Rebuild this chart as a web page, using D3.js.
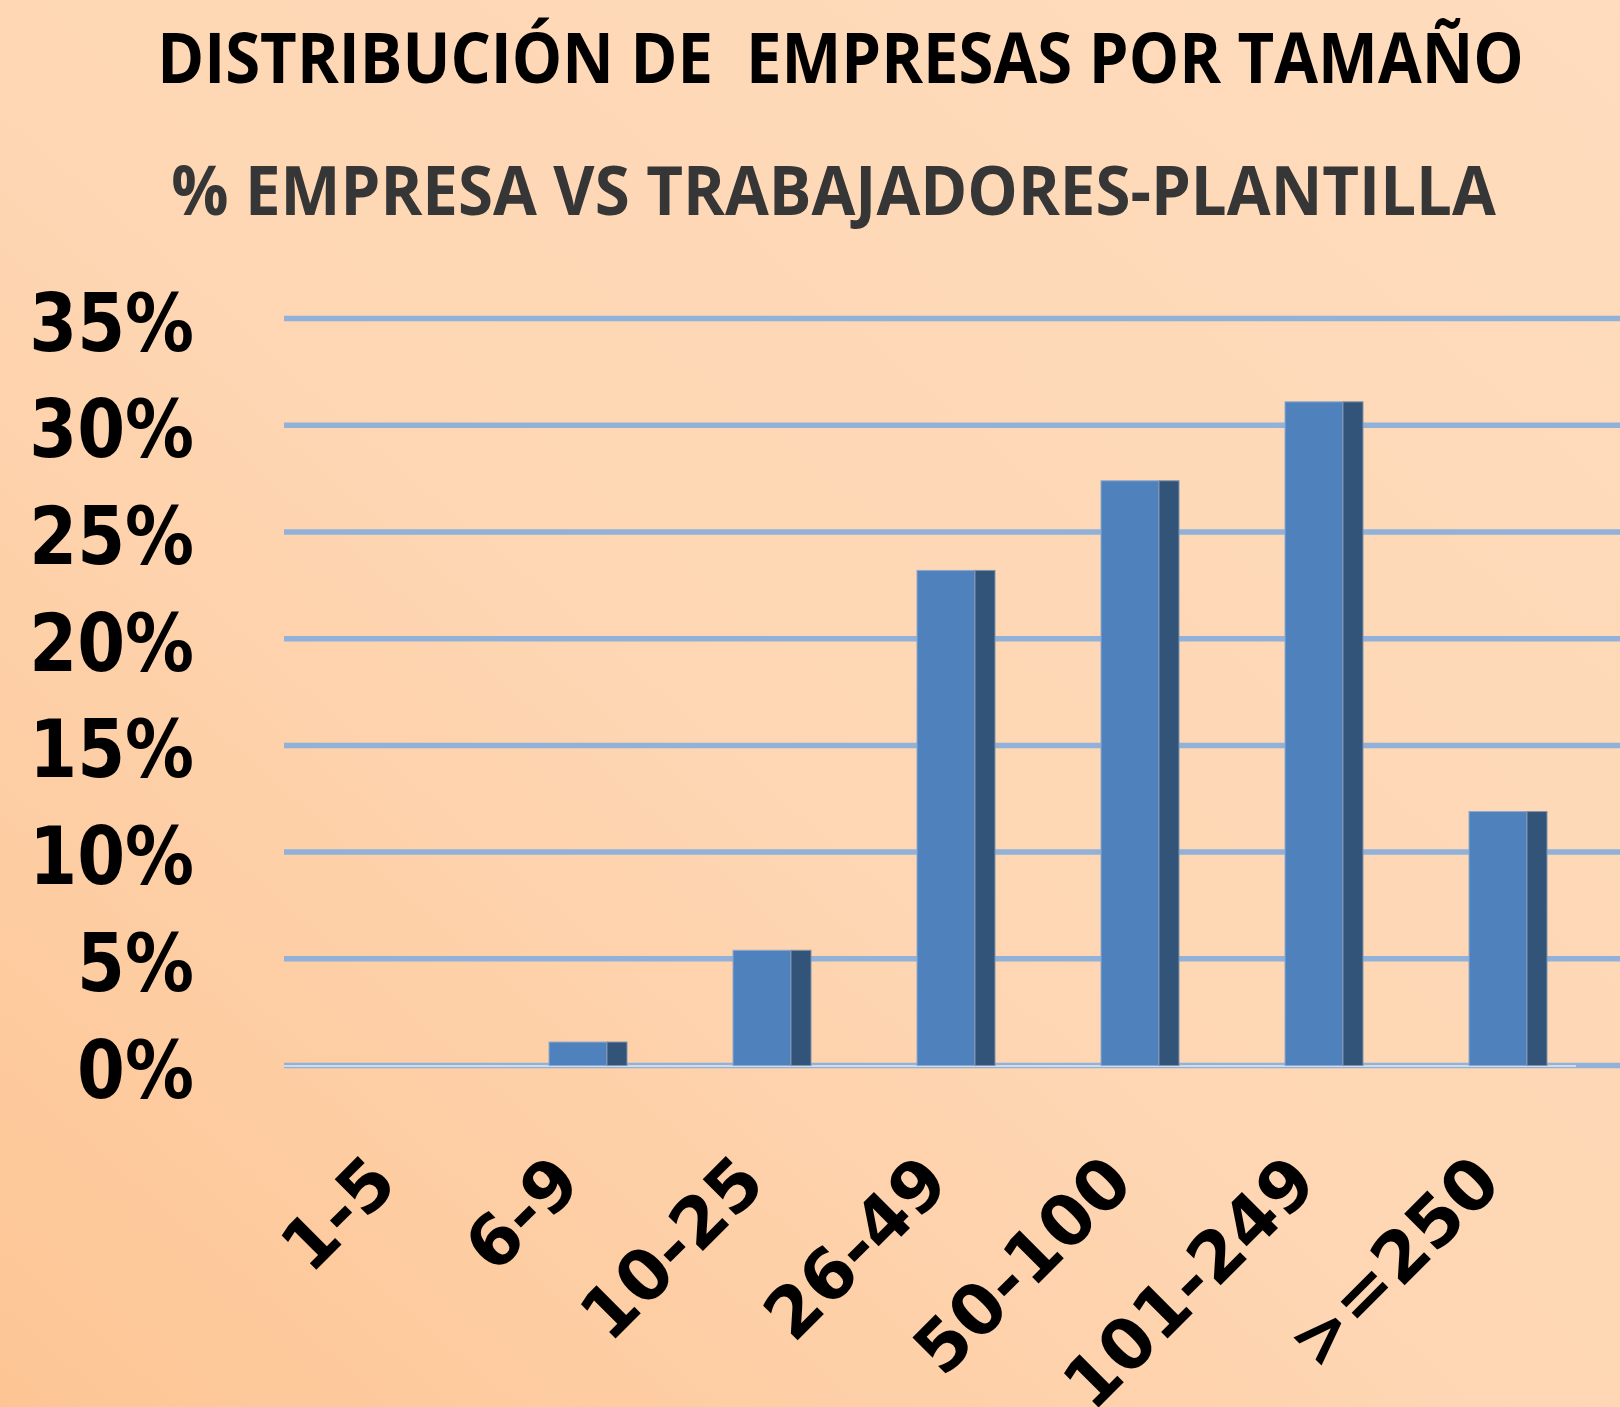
<!DOCTYPE html>
<html>
<head>
<meta charset="utf-8">
<script src="https://cdn.jsdelivr.net/npm/d3@7"></script>
<style>
  html, body { margin: 0; padding: 0; background: #fed9b8; }
  svg { display: block; }
</style>
</head>
<body>
<svg id="chart" width="1620" height="1407"></svg>
<script>
// ---- data ----
const categories = ["1-5", "6-9", "10-25", "26-49", "50-100", "101-249", ">=250"];
const values = [0, 1.1, 5.4, 23.2, 27.4, 31.1, 11.9];
const yTicks = [0, 5, 10, 15, 20, 25, 30, 35];
const yTickLabels = ["0%", "5%", "10%", "15%", "20%", "25%", "30%", "35%"];
const title1 = "DISTRIBUCIÓN DE\u00A0 EMPRESAS POR TAMAÑO";
const title2 = "% EMPRESA VS TRABAJADORES-PLANTILLA";

const W = 1620, H = 1407;
const svg = d3.select("#chart");

// background gradient
const defs = svg.append("defs");
const grad = defs.append("linearGradient").attr("id", "bg")
  .attr("x1", "0").attr("y1", "1").attr("x2", "1").attr("y2", "0");
grad.append("stop").attr("offset", "0").attr("stop-color", "#fdc594");
grad.append("stop").attr("offset", "0.45").attr("stop-color", "#fed6b3");
grad.append("stop").attr("offset", "1").attr("stop-color", "#fedcbd");
svg.append("rect").attr("width", W).attr("height", H).attr("fill", "url(#bg)");

// scales
const plotLeft = 284, plotRight = 1572;
const x = d3.scaleBand().domain(categories).range([plotLeft, plotRight]).padding(0);
const y = d3.scaleLinear().domain([0, 35]).range([1065.5, 318.6]);

// titles (scaled horizontally to fit the measured width of the reference)
function fitTitle(txt, cx, baseY, targetW, size, color) {
  const t = svg.append("text")
    .attr("text-anchor", "middle")
    .attr("font-family", "'Open Sans', 'Noto Sans', sans-serif")
    .attr("font-weight", "bold").attr("font-size", size)
    .attr("fill", color)
    .text(txt);
  const natural = t.node().getComputedTextLength();
  const s = natural > 0 ? targetW / natural : 1;
  t.attr("transform", `translate(${cx},${baseY}) scale(${s},1)`);
}
fitTitle(title1, 840.5, 83, 1367, 69, "#000");
fitTitle(title2, 833.5, 215, 1325, 68, "#363636");

// gridlines
svg.append("g").selectAll("line").data(yTicks).join("line")
  .attr("x1", plotLeft).attr("x2", W)
  .attr("y1", d => y(d)).attr("y2", d => y(d))
  .attr("stroke", "#91b1d9").attr("stroke-width", 5.5);
// floor line
svg.append("line")
  .attr("x1", plotLeft).attr("x2", plotRight + 4)
  .attr("y1", y(0) + 0.5).attr("y2", y(0) + 0.5)
  .attr("stroke", "#d3dbe6").attr("stroke-width", 2);

// y labels
svg.append("g").selectAll("text").data(yTicks).join("text")
  .attr("transform", d => `translate(194,${y(d) + 32}) scale(0.85,1)`)
  .attr("text-anchor", "end")
  .attr("font-family", "'DejaVu Sans', Verdana, sans-serif")
  .attr("font-weight", "bold").attr("font-size", 81)
  .attr("fill", "#000")
  .text((d, i) => yTickLabels[i]);

// bars
const barData = categories.map((c, i) => ({ cat: c, val: values[i] })).filter(d => d.val > 0);
const barOffset = 81, frontW = 58, sideW = 20;
const bars = svg.append("g").selectAll("g").data(barData).join("g");
bars.append("rect")
  .attr("x", d => x(d.cat) + barOffset)
  .attr("y", d => y(d.val))
  .attr("width", frontW)
  .attr("height", d => y(0) - y(d.val))
  .attr("fill", "#4f81bd")
  .attr("stroke", "#8ea9cf").attr("stroke-width", 1);
bars.append("rect")
  .attr("x", d => x(d.cat) + barOffset + frontW)
  .attr("y", d => y(d.val))
  .attr("width", sideW)
  .attr("height", d => y(0) - y(d.val))
  .attr("fill", "#325479")
  .attr("stroke", "#7f93ad").attr("stroke-width", 1);

// x labels
svg.append("g").selectAll("text").data(categories).join("text")
  .attr("transform", d => `translate(${x(d) + 116},1186) rotate(-45)`)
  .attr("text-anchor", "end")
  .attr("font-family", "'DejaVu Sans', Verdana, sans-serif")
  .attr("font-weight", "bold").attr("font-size", 70)
  .attr("fill", "#000")
  .text(d => d);
</script>
</body>
</html>
